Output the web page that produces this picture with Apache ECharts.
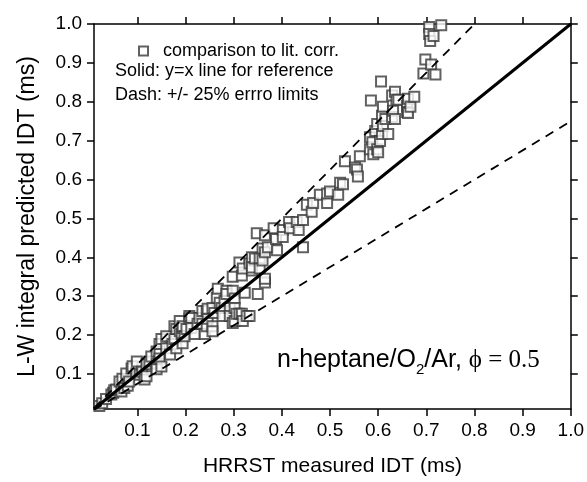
<!DOCTYPE html>
<html>
<head>
<meta charset="utf-8">
<script src="https://cdn.jsdelivr.net/npm/echarts@6/dist/echarts.min.js"></script>
<style>
  html, body { margin: 0; padding: 0; background: #fff; }
  #main { width: 587px; height: 482px; }
</style>
</head>
<body>
<div id="main"></div>
<script>
    // measured IDT (x) vs. predicted IDT (y), ms
    var measured = [
        0.021, 0.027, 0.035, 0.046, 0.050, 0.052, 0.056, 0.063, 0.067, 0.069,
        0.073, 0.077, 0.080, 0.083, 0.088, 0.090, 0.098, 0.099, 0.105, 0.110,
        0.115, 0.119, 0.119, 0.125, 0.129, 0.140, 0.140, 0.140, 0.146, 0.146,
        0.146, 0.150, 0.150, 0.160, 0.160, 0.168, 0.173, 0.177, 0.177, 0.181,
        0.181, 0.188, 0.188, 0.192, 0.194, 0.194, 0.194, 0.198, 0.202, 0.208,
        0.208, 0.212, 0.212, 0.219, 0.225, 0.229, 0.235, 0.235, 0.240, 0.244,
        0.244, 0.246, 0.246, 0.256, 0.256, 0.256, 0.260, 0.265, 0.267, 0.271,
        0.275, 0.277, 0.281, 0.285, 0.285, 0.292, 0.292, 0.298, 0.298, 0.298,
        0.302, 0.302, 0.302, 0.306, 0.312, 0.312, 0.317, 0.317, 0.319, 0.319,
        0.323, 0.327, 0.333, 0.333, 0.338, 0.338, 0.338, 0.344, 0.348, 0.350,
        0.354, 0.354, 0.360, 0.360, 0.365, 0.365, 0.365, 0.365, 0.371, 0.383,
        0.388, 0.390, 0.402, 0.402, 0.415, 0.417, 0.431, 0.435, 0.444, 0.444,
        0.452, 0.462, 0.465, 0.479, 0.494, 0.494, 0.500, 0.517, 0.521, 0.527,
        0.531, 0.552, 0.556, 0.558, 0.562, 0.583, 0.583, 0.585, 0.588, 0.590,
        0.594, 0.598, 0.598, 0.600, 0.604, 0.606, 0.608, 0.608, 0.610, 0.610,
        0.615, 0.621, 0.629, 0.629, 0.631, 0.635, 0.635, 0.638, 0.642, 0.660,
        0.660, 0.662, 0.662, 0.667, 0.675, 0.694, 0.698, 0.706, 0.706, 0.708,
        0.710, 0.715, 0.719, 0.731
    ];
    var predicted = [
        0.018, 0.025, 0.036, 0.047, 0.052, 0.058, 0.060, 0.081, 0.055, 0.088,
        0.064, 0.101, 0.070, 0.081, 0.114, 0.120, 0.101, 0.132, 0.098, 0.106,
        0.086, 0.094, 0.125, 0.132, 0.145, 0.158, 0.127, 0.112, 0.153, 0.177,
        0.140, 0.190, 0.119, 0.166, 0.197, 0.150, 0.177, 0.190, 0.223, 0.166,
        0.216, 0.236, 0.210, 0.203, 0.218, 0.179, 0.223, 0.197, 0.216, 0.242,
        0.249, 0.244, 0.218, 0.203, 0.229, 0.244, 0.262, 0.229, 0.203, 0.262,
        0.223, 0.242, 0.268, 0.270, 0.223, 0.210, 0.257, 0.296, 0.319, 0.283,
        0.270, 0.249, 0.288, 0.314, 0.306, 0.270, 0.249, 0.314, 0.350, 0.231,
        0.294, 0.270, 0.236, 0.255, 0.387, 0.255, 0.353, 0.255, 0.371, 0.236,
        0.309, 0.249, 0.384, 0.249, 0.400, 0.366, 0.374, 0.397, 0.462, 0.306,
        0.397, 0.371, 0.423, 0.392, 0.457, 0.413, 0.335, 0.345, 0.426, 0.475,
        0.447, 0.418, 0.470, 0.452, 0.491, 0.475, 0.491, 0.470, 0.496, 0.426,
        0.535, 0.517, 0.540, 0.561, 0.540, 0.564, 0.569, 0.561, 0.592, 0.588,
        0.647, 0.631, 0.626, 0.608, 0.660, 0.709, 0.678, 0.803, 0.696, 0.665,
        0.725, 0.743, 0.678, 0.670, 0.699, 0.852, 0.764, 0.717, 0.787, 0.738,
        0.756, 0.717, 0.761, 0.816, 0.777, 0.756, 0.826, 0.805, 0.805, 0.790,
        0.774, 0.808, 0.771, 0.787, 0.813, 0.873, 0.909, 0.992, 0.974, 0.956,
        0.896, 0.969, 0.870, 0.997
    ];

    // reference lines: y = x and +/- 25 %
    var solidX = [0.01, 1.0];
    var solidY = [0.01, 1.0];
    var upperX = [0.01, 0.8];
    var upperY = [0.0125, 1.0];
    var lowerX = [0.01, 1.0];
    var lowerY = [0.0075, 0.75];

    var tickValues = [0.1, 0.2, 0.3, 0.4, 0.5, 0.6, 0.7, 0.8, 0.9, 1.0];

    function zip(xs, ys) {
        return xs.map(function (x, i) { return [x, ys[i]]; });
    }

    var font = 'Liberation Sans, Arial, sans-serif';

    function axisCommon(pos, showLabel) {
        return {
            type: 'value',
            position: pos,
            min: 0.01,
            max: 1.0,
            axisLine: { show: true, onZero: false, lineStyle: { color: '#000', width: 1.5 } },
            axisTick: { show: true, inside: false, length: 7, customValues: tickValues, lineStyle: { color: '#000', width: 1.5 } },
            axisLabel: {
                show: showLabel,
                customValues: tickValues,
                formatter: function (v) { return v.toFixed(1); },
                fontFamily: font,
                fontSize: 19,
                color: '#000',
                margin: 12
            },
            splitLine: { show: false }
        };
    }

    var xBottom = axisCommon('bottom', true);
    xBottom.name = 'HRRST measured IDT (ms)';
    xBottom.nameLocation = 'middle';
    xBottom.nameGap = 47;
    xBottom.nameTextStyle = { fontFamily: font, fontSize: 21, color: '#000' };

    var yLeft = axisCommon('left', true);
    yLeft.name = 'L-W integral predicted IDT (ms)';
    yLeft.nameLocation = 'middle';
    yLeft.nameGap = 55;
    yLeft.nameTextStyle = { fontFamily: font, fontSize: 23, color: '#000' };

    var myChart = echarts.init(document.getElementById('main'));
    var option = {
        animation: false,
        backgroundColor: '#fff',
        grid: { left: 94, right: 16, top: 24, bottom: 73 },
        xAxis: [xBottom, axisCommon('top', false)],
        yAxis: [yLeft, axisCommon('right', false)],
        legend: {
            left: 133,
            top: 37,
            itemWidth: 9,
            itemHeight: 9,
            selectedMode: false,
            data: ['comparison to lit. corr.'],
            textStyle: { fontFamily: font, fontSize: 18, color: '#000', padding: [0, 0, 0, 10] }
        },
        graphic: [
            {
                type: 'text', left: 115, top: 62,
                style: { text: 'Solid: y=x line for reference', font: '18px ' + font, fill: '#000' }
            },
            {
                type: 'text', left: 115, top: 86,
                style: { text: 'Dash: +/- 25% errro limits', font: '18px ' + font, fill: '#000' }
            },
            {
                type: 'text', left: 277, top: 348,
                style: {
                    text: '{a|n-heptane/O}{s|2}{a|/Ar, }{b|\u03d5 = 0.5}',
                    rich: {
                        a: { fontFamily: font, fontSize: 25, color: '#000', lineHeight: 34, verticalAlign: 'middle' },
                        s: { fontFamily: font, fontSize: 15, color: '#000', lineHeight: 34, verticalAlign: 'bottom' },
                        b: { fontFamily: 'Liberation Serif, DejaVu Serif, serif', fontSize: 25, color: '#000', lineHeight: 34, verticalAlign: 'middle' }
                    }
                }
            }
        ],
        series: [
            {
                name: 'comparison to lit. corr.',
                type: 'scatter',
                symbol: 'emptyRect',
                symbolSize: 10,
                itemStyle: { color: '#3a3a3a', borderWidth: 1.1 },
                data: zip(measured, predicted)
            },
            {
                type: 'line',
                symbol: 'none',
                lineStyle: { color: '#000', width: 3 },
                data: zip(solidX, solidY)
            },
            {
                type: 'line',
                symbol: 'none',
                lineStyle: { color: '#000', width: 1.8, type: [9, 7] },
                data: zip(upperX, upperY)
            },
            {
                type: 'line',
                symbol: 'none',
                lineStyle: { color: '#000', width: 1.8, type: [9, 7] },
                data: zip(lowerX, lowerY)
            }
        ]
    };
    myChart.setOption(option);
</script>
</body>
</html>
